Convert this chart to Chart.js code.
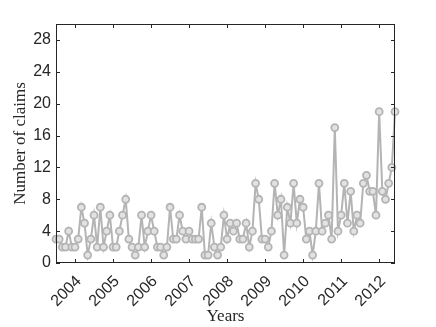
<!DOCTYPE html>
<html>
<head>
<meta charset="utf-8">
<script src="https://cdn.jsdelivr.net/npm/chart.js@4"></script>
<style>
  html, body { margin: 0; padding: 0; background: #fff; }
  #wrap { width: 436px; height: 327px; }
</style>
</head>
<body>
<div id="wrap"><canvas id="chart"></canvas></div>
<script>
// monthly claims, July 2003 .. June 2012
const startYear = 2003.5;
const claims = [
  3, 3, 2, 2, 4, 2, 2, 3, 7, 5,
  1, 3, 6, 2, 7, 2, 4, 6, 2, 2,
  4, 6, 8, 3, 2, 1, 2, 6, 2, 4,
  6, 4, 2, 2, 1, 2, 7, 3, 3, 6,
  4, 3, 4, 3, 3, 3, 7, 1, 1, 5,
  2, 1, 2, 6, 3, 5, 4, 5, 3, 3,
  5, 2, 4, 10, 8, 3, 3, 2, 4, 10,
  6, 8, 1, 7, 5, 10, 5, 8, 7, 3,
  4, 1, 4, 10, 4, 5, 6, 3, 17, 4,
  6, 10, 5, 9, 4, 6, 5, 10, 11, 9,
  9, 6, 19, 9, 8, 10, 12, 19
];
const yearTicks = [2004, 2005, 2006, 2007, 2008, 2009, 2010, 2011, 2012];
const claimTicks = [0, 4, 8, 12, 16, 20, 24, 28];

const points = claims.map((v, i) => ({ x: startYear + i / 12, y: v }));

const axisColor = "#262626";
const tickFont = { family: "Liberation Sans, Arial, sans-serif", size: 16 };
const titleFont = { family: "Liberation Serif, Times New Roman, serif", size: 17 };

// MATLAB-like box with inward ticks on all sides
const boxPlugin = {
  id: "box",
  afterDraw(chart) {
    const { ctx, chartArea: a, scales } = chart;
    ctx.save();
    ctx.strokeStyle = axisColor;
    ctx.lineWidth = 1;
    ctx.strokeRect(a.left + 0.5, a.top + 0.5, a.right - a.left - 1, a.bottom - a.top - 1);
    const len = 4;
    ctx.beginPath();
    scales.x.ticks.forEach(t => {
      const px = Math.round(scales.x.getPixelForValue(t.value)) + 0.5;
      ctx.moveTo(px, a.bottom); ctx.lineTo(px, a.bottom - len);
      ctx.moveTo(px, a.top); ctx.lineTo(px, a.top + len);
    });
    scales.y.ticks.forEach(t => {
      const py = Math.round(scales.y.getPixelForValue(t.value)) + 0.5;
      ctx.moveTo(a.left, py); ctx.lineTo(a.left + len, py);
      ctx.moveTo(a.right, py); ctx.lineTo(a.right - len, py);
    });
    ctx.stroke();
    ctx.restore();
  }
};

new Chart(document.getElementById("chart"), {
  type: "line",
  data: {
    datasets: [{
      data: points,
      borderColor: "#b4b4b4",
      borderWidth: 2,
      pointRadius: 3.5,
      pointBorderWidth: 1.8,
      pointBorderColor: "#b4b4b4",
      pointBackgroundColor: "#e2e2e2",
      tension: 0,
      clip: false
    }]
  },
  options: {
    responsive: true,
    maintainAspectRatio: false,
    animation: false,
    layout: { padding: { top: 24, right: 41, left: 10, bottom: 0 } },
    plugins: { legend: { display: false }, tooltip: { enabled: false } },
    scales: {
      x: {
        type: "linear",
        min: startYear,
        max: startYear + (claims.length - 1) / 12,
        afterBuildTicks: s => { s.ticks = yearTicks.map(v => ({ value: v })); },
        afterFit: s => { s.height = 64; },
        grid: { display: false },
        border: { display: false },
        ticks: {
          color: axisColor,
          font: tickFont,
          minRotation: 45,
          maxRotation: 45,
          padding: 1,
          labelOffset: 4,
          callback: v => String(v)
        },
        title: {
          display: true,
          text: "Years",
          color: axisColor,
          font: titleFont,
          padding: { top: 0, bottom: 0 }
        }
      },
      y: {
        min: 0,
        max: 30,
        afterBuildTicks: s => { s.ticks = claimTicks.map(v => ({ value: v })); },
        afterFit: s => { s.width = 46; },
        grid: { display: false, drawTicks: false },
        border: { display: false },
        ticks: { color: axisColor, font: tickFont, padding: 5 },
        title: {
          display: true,
          text: "Number of claims",
          color: axisColor,
          font: titleFont,
          padding: { top: 0, bottom: 0 }
        }
      }
    }
  },
  plugins: [boxPlugin]
});
</script>
</body>
</html>
